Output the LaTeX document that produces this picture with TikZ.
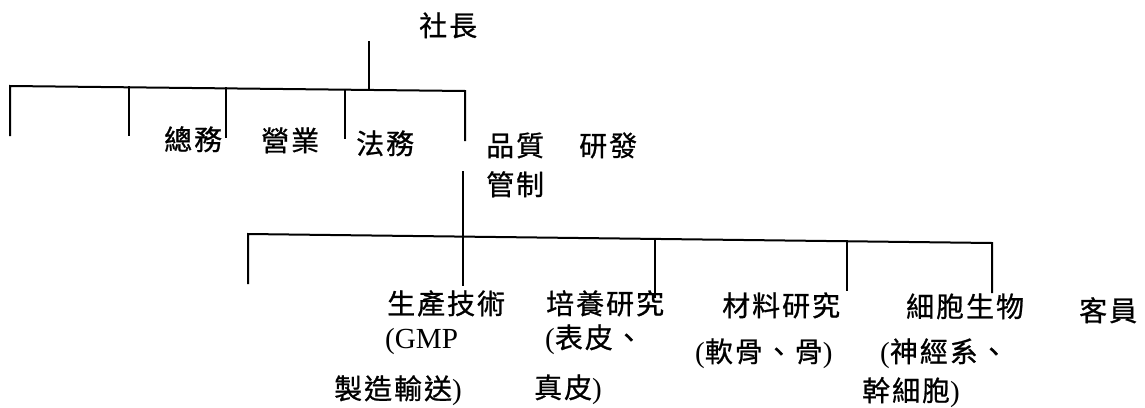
\documentclass[tikz,border=0pt]{standalone}
\usepackage{fontspec}
\setmainfont{Liberation Serif}[Scale=1.04]
\newfontfamily\cjk[LetterSpace=7,FakeBold=0.8]{Noto Sans CJK TC}
\begin{document}
\begin{tikzpicture}[x=1pt,y=-1pt,
  conn/.style={line width=2pt,line cap=rect,line join=miter},
  lbl/.style={anchor=base west,inner sep=0pt,font=\fontsize{28}{31}\selectfont}]
\path[use as bounding box] (0,0) rectangle (1145,407);
% ---- labels ----
\node[lbl] (shacho) at (419,36) {\cjk 社長};
\node[lbl] (somu)   at (164,150) {\cjk 總務};
\node[lbl] (eigyo)  at (261,151) {\cjk 營業};
\node[lbl] (homu)   at (356,154) {\cjk 法務};
\node[lbl] (hinshitsu) at (486,156) {\cjk 品質};
\node[lbl] (kanri)  at (486,195) {\cjk 管制};
\node[lbl] (kenhatsu) at (579,156) {\cjk 研發};
\node[lbl] (seisan) at (387,314) {\cjk 生產技術};
\node[lbl] (gmp)    at (385,348) {(GMP};
\node[lbl] (seizo)  at (334,399) {{\cjk 製造輸送})};
\node[lbl] (baiyo)  at (546,314) {\cjk 培養研究};
\node[lbl] (hyohi)  at (545,348) {({\cjk 表皮、}};
\node[lbl] (shinpi) at (534,398) {{\cjk 真皮})};
\node[lbl] (zairyo) at (722,316) {\cjk 材料研究};
\node[lbl] (nankotsu) at (695,362) {({\cjk 軟骨、骨})};
\node[lbl] (saibo)  at (906,317) {\cjk 細胞生物};
\node[lbl] (shinkei) at (880,362) {({\cjk 神經系、}};
\node[lbl] (kansaibo) at (862,401) {{\cjk 幹細胞})};
\node[lbl] (kyakuin) at (1079,321) {\cjk 客員};
% ---- connector points ----
\coordinate (pTop) at (369,42);
\coordinate (pBus) at (369,89.9);
\coordinate (b1L) at (10,86);   \coordinate (d1a) at (10,135);
\coordinate (b1R) at (465,91);  \coordinate (d1e) at (465,140);
\coordinate (b1b) at (129,87.3); \coordinate (d1b) at (129,135);
\coordinate (b1c) at (226,88.4); \coordinate (d1c) at (226,137);
\coordinate (b1d) at (345,89.7); \coordinate (d1d) at (345,138);
\coordinate (qTop) at (463,172); \coordinate (qBot) at (463,285);
\coordinate (b2L) at (248,234); \coordinate (d2a) at (248,283);
\coordinate (b2R) at (992,243); \coordinate (d2e) at (992,292);
\coordinate (b2c) at (655,238.9); \coordinate (d2c) at (655,297);
\coordinate (b2d) at (847,241.2); \coordinate (d2d) at (847,290);
% ---- connectors ----
\draw[conn] (pTop) -- (pBus);
\draw[conn] (d1a) -- (b1L) -- (b1R) -- (d1e);
\draw[conn] (b1b) -- (d1b);
\draw[conn] (b1c) -- (d1c);
\draw[conn] (b1d) -- (d1d);
\draw[conn] (qTop) -- (qBot);
\draw[conn] (d2a) -- (b2L) -- (b2R) -- (d2e);
\draw[conn] (b2c) -- (d2c);
\draw[conn] (b2d) -- (d2d);
\end{tikzpicture}
\end{document}
